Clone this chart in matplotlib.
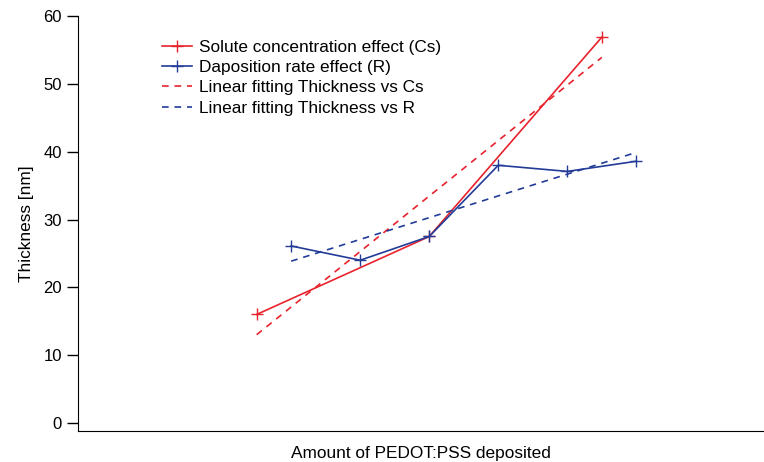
import numpy as np
import matplotlib
matplotlib.use('Agg')
import matplotlib.pyplot as plt

plt.rcParams['font.family'] = ['Liberation Sans', 'DejaVu Sans']

# Data
cs_x = [2.5, 5, 7.5]
cs_y = [16.0, 27.5, 56.9]
r_x = [3, 4, 5, 6, 7, 8]
r_y = [26.1, 24.0, 27.5, 38.0, 37.1, 38.6]

red = '#e8232d'
blue = '#233c98'

fig = plt.figure(figsize=(7.64, 4.62), dpi=100)
ax = fig.add_axes([0.102, 0.067, 0.898, 0.898])

ax.plot(cs_x, cs_y, color=red, lw=1.2, marker='+', ms=9, mew=1.0,
        label='Solute concentration effect (Cs)')
ax.plot(r_x, r_y, color=blue, lw=1.2, marker='+', ms=9, mew=1.0,
        label='Daposition rate effect (R)')

# linear fits
p_cs = np.polyfit(cs_x, cs_y, 1)
p_r = np.polyfit(r_x, r_y, 1)
ax.plot(cs_x, np.polyval(p_cs, cs_x), color=red, lw=1.2, ls=(0, (4, 3.5)),
        label='Linear fitting Thickness vs Cs')
ax.plot(r_x, np.polyval(p_r, r_x), color=blue, lw=1.2, ls=(0, (4, 3.5)),
        label='Linear fitting Thickness vs R')

ax.set_xlim(-0.09, 9.85)
ax.set_ylim(-1.2, 60)
ax.set_yticks([0, 10, 20, 30, 40, 50, 60])
ax.set_xticks([])
ax.spines['top'].set_visible(False)
ax.spines['right'].set_visible(False)
ax.tick_params(axis='y', direction='out', length=8, width=1, labelsize=12, pad=3.5)
ax.set_ylabel('Thickness [nm]', fontsize=12.4, labelpad=7)
ax.set_xlabel('Amount of PEDOT:PSS deposited', fontsize=12.4, labelpad=11)

ax.legend(loc='upper left', bbox_to_anchor=(0.1, 0.98), frameon=False,
          fontsize=12.4, handlelength=1.75, labelspacing=0.3, handletextpad=0.4)

fig.savefig('out.png', dpi=100)
